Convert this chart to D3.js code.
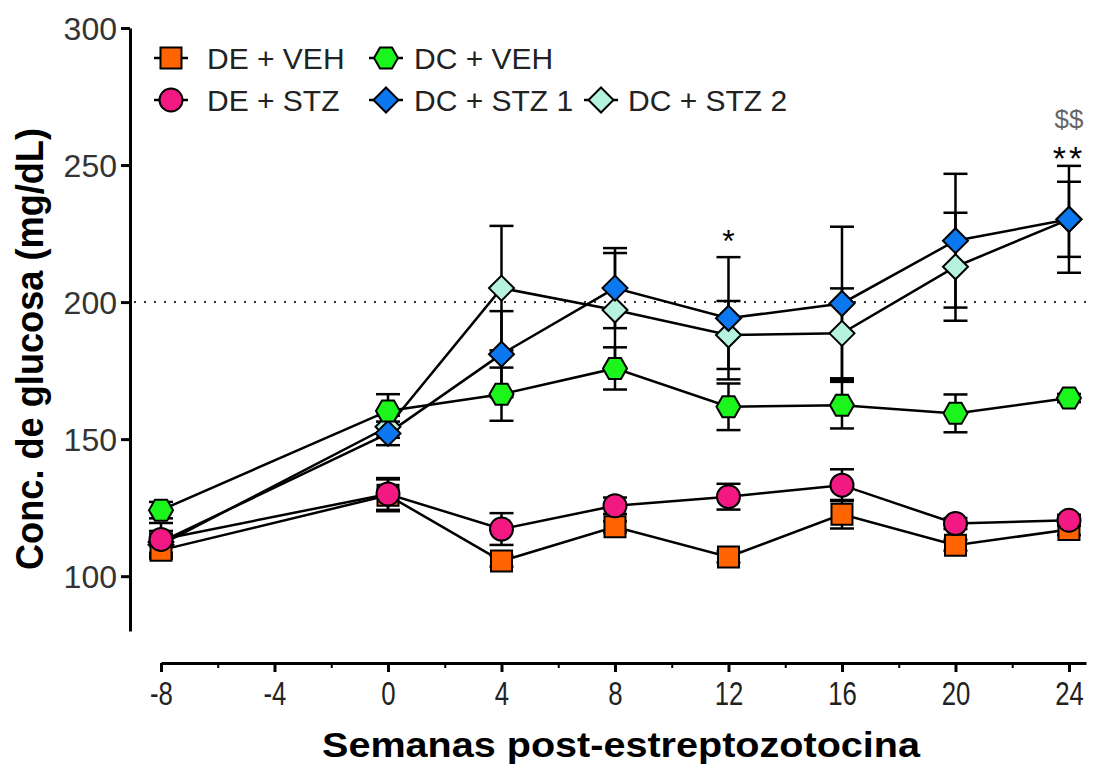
<!DOCTYPE html>
<html>
<head>
<meta charset="utf-8">
<script src="https://cdn.jsdelivr.net/npm/d3@7"></script>
<style>
  body { margin: 0; background: #fff; }
  text { font-family: "Liberation Sans", Arial, sans-serif; }
</style>
</head>
<body>
<div id="chart"></div>
<script>
var weeks = [-8, 0, 4, 8, 12, 16, 20, 24];

var deVeh     = [109.5, 129.5, 105.5, 118, 107, 122.6, 111.3, 117];
var deVehErr  = [3, 5.8, 2, 2, 2, 5.2, 2, 2];
var deStz     = [113.4, 130, 117.2, 125.7, 129, 133.2, 119.2, 120.4];
var deStzErr  = [6, 5.8, 5.8, 3, 4.7, 5.8, 2, 2];
var dcVeh     = [124.1, 160.3, 166.4, 175.8, 161.8, 162.4, 159.4, 165];
var dcVehErr  = [3, 6.1, 9.7, 7.7, 8.5, 8.5, 6.9, 1.5];
var dcStz1    = [112.5, 152.1, 181, 205.1, 194.1, 199.5, 222.4, 230.2];
var dcStz1Err = [4, 4.3, 15.7, 14.6, 22.3, 28, 24.4, 13.7];
var dcStz2    = [111.5, 154.5, 205.1, 197.1, 188, 188.6, 212.9, 230.2];
var dcStz2Err = [4, 4, 22.7, 20.8, 12.4, 16.4, 19.7, 19.5];

var yTicks = [100, 150, 200, 250, 300];
var xTicks = [-8, -4, 0, 4, 8, 12, 16, 20, 24];
var xMinor = [-6, -2, 2, 6, 10, 14, 18, 22];
var threshold = 200;

// drawing order: back to front
var series = [
  {name: "DC + STZ 2", vals: dcStz2, err: dcStz2Err, color: "#b5f3df", shape: "diamond"},
  {name: "DC + STZ 1", vals: dcStz1, err: dcStz1Err, color: "#0b78f0", shape: "diamond"},
  {name: "DC + VEH",   vals: dcVeh,  err: dcVehErr,  color: "#1cf51c", shape: "hexagon"},
  {name: "DE + VEH",   vals: deVeh,  err: deVehErr,  color: "#ff6400", shape: "square"},
  {name: "DE + STZ",   vals: deStz,  err: deStzErr,  color: "#f21a82", shape: "circle"}
];

var legendRows = [
  ["DE + VEH", "DC + VEH"],
  ["DE + STZ", "DC + STZ 1", "DC + STZ 2"]
];

var width = 1093, height = 765;

var svg = d3.select("#chart").append("svg")
    .attr("width", width)
    .attr("height", height);

var xScale = d3.scaleLinear().domain([-8, 24.6]).range([161, 1086]);
var yScale = d3.scaleLinear().domain([80, 300]).range([631, 28]);

function shapePath(shape) {
  if (shape == "square") return "M-10.5,-10.5H10.5V10.5H-10.5Z";
  if (shape == "hexagon") return "M-12,0L-6,-10.5L6,-10.5L12,0L6,10.5L-6,10.5Z";
  if (shape == "diamond") return "M0,-12.5L12.5,0L0,12.5L-12.5,0Z";
  return "M-11.5,0A11.5,11.5 0 1,0 11.5,0A11.5,11.5 0 1,0 -11.5,0Z";
}

// axes
var yAxis = svg.append("g")
    .attr("transform", "translate(130,0)")
    .call(d3.axisLeft(yScale).tickValues(yTicks).tickSize(9).tickSizeOuter(0).tickPadding(4));
yAxis.selectAll("path, line").attr("stroke", "#000").attr("stroke-width", 3);
yAxis.selectAll("text").attr("font-size", 32).attr("fill", "#333").attr("dy", "0.36em");

var xAxis = svg.append("g")
    .attr("transform", "translate(0,663)")
    .call(d3.axisBottom(xScale).tickValues(xTicks).tickSize(9).tickSizeOuter(0).tickPadding(10)
      .tickFormat(function(d) { return String(d); }));
xAxis.selectAll("path, line").attr("stroke", "#000").attr("stroke-width", 3);
xAxis.selectAll("text").attr("font-size", 33).attr("fill", "#222")
    .attr("transform", "scale(0.78,1)");

var xAxisMinor = svg.append("g")
    .attr("transform", "translate(0,663)")
    .call(d3.axisBottom(xScale).tickValues(xMinor).tickSize(5).tickFormat(""));
xAxisMinor.select(".domain").remove();
xAxisMinor.selectAll("line").attr("stroke", "#000").attr("stroke-width", 2);

// axis titles
svg.append("text")
    .attr("x", 621).attr("y", 757)
    .attr("text-anchor", "middle")
    .attr("font-size", 35).attr("font-weight", "bold")
    .attr("textLength", 598).attr("lengthAdjust", "spacingAndGlyphs")
    .text("Semanas post-estreptozotocina");

svg.append("text")
    .attr("transform", "translate(43,349) rotate(-90)")
    .attr("text-anchor", "middle")
    .attr("font-size", 38).attr("font-weight", "bold")
    .attr("textLength", 442).attr("lengthAdjust", "spacingAndGlyphs")
    .text("Conc. de glucosa (mg/dL)");

// threshold line
svg.append("line")
    .attr("x1", 134).attr("x2", 1086)
    .attr("y1", yScale(threshold)).attr("y2", yScale(threshold))
    .attr("stroke", "#333").attr("stroke-width", 2)
    .attr("stroke-dasharray", "2,8");

// lines and error bars
var line = d3.line()
    .x(function(d, i) { return xScale(weeks[i]); })
    .y(function(d) { return yScale(d); });

series.forEach(function(s) {
  svg.append("path")
      .attr("d", line(s.vals))
      .attr("fill", "none")
      .attr("stroke", "#000")
      .attr("stroke-width", 2.5);
});

series.forEach(function(s) {
  var g = svg.append("g").attr("stroke", "#000").attr("stroke-width", 2.5);
  s.vals.forEach(function(v, i) {
    var cx = xScale(weeks[i]);
    var y1 = yScale(v - s.err[i]), y2 = yScale(v + s.err[i]);
    g.append("line").attr("x1", cx).attr("x2", cx).attr("y1", y1).attr("y2", y2);
    g.append("line").attr("x1", cx - 12).attr("x2", cx + 12).attr("y1", y1).attr("y2", y1);
    g.append("line").attr("x1", cx - 12).attr("x2", cx + 12).attr("y1", y2).attr("y2", y2);
  });
});

series.forEach(function(s) {
  svg.append("g").selectAll("path")
    .data(s.vals)
    .enter().append("path")
      .attr("d", shapePath(s.shape))
      .attr("transform", function(d, i) { return "translate(" + xScale(weeks[i]) + "," + yScale(d) + ")"; })
      .attr("fill", s.color)
      .attr("stroke", "#000")
      .attr("stroke-width", 2);
});

// significance marks
svg.append("text")
    .attr("x", xScale(12)).attr("y", 252)
    .attr("text-anchor", "middle").attr("font-size", 32)
    .text("*");
svg.append("text")
    .attr("x", xScale(24)).attr("y", 170)
    .attr("text-anchor", "middle").attr("font-size", 34)
    .attr("letter-spacing", 3)
    .text("**");
svg.append("text")
    .attr("x", xScale(24)).attr("y", 128)
    .attr("text-anchor", "middle").attr("font-size", 26).attr("fill", "#666")
    .text("$$");

// legend
var legX = [[171, 207], [386, 414], [601, 628]];
var legY = [58, 100];
legendRows.forEach(function(row, r) {
  row.forEach(function(name, c) {
    var s = series.filter(function(d) { return d.name == name; })[0];
    var g = svg.append("g").attr("transform", "translate(" + legX[c][0] + "," + legY[r] + ")");
    g.append("line").attr("x1", -17).attr("x2", 17)
        .attr("stroke", "#000").attr("stroke-width", 2.5);
    g.append("path").attr("d", shapePath(s.shape))
        .attr("fill", s.color).attr("stroke", "#000").attr("stroke-width", 2);
    svg.append("text")
        .attr("x", legX[c][1]).attr("y", legY[r] + 11)
        .attr("font-size", 30).attr("fill", "#222")
        .text(name);
  });
});
</script>
</body>
</html>
